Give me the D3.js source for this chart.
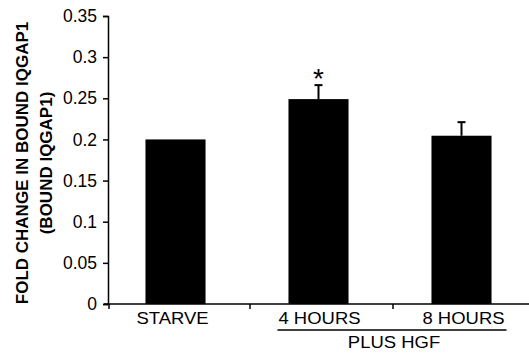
<!DOCTYPE html>
<html>
<head>
<meta charset="utf-8">
<script src="https://cdn.jsdelivr.net/npm/d3@7"></script>
<style>
  html, body { margin: 0; padding: 0; background: #fff; }
  text { font-family: Arial, "Liberation Sans", sans-serif; fill: #000; }
</style>
</head>
<body>
<div id="chart"></div>
<script>
// Bound IQGAP1 fold change
const categories = ['STARVE', '4 HOURS', '8 HOURS'];
const values = [0.2, 0.249, 0.2045];
const errors = [0, 0.017, 0.0165];
const significant = [false, true, false];
const yTicks = [0, 0.05, 0.1, 0.15, 0.2, 0.25, 0.3, 0.35];
const groupLabel = 'PLUS HGF';
const yLabelLines = ['FOLD CHANGE IN BOUND IQGAP1', '(BOUND IQGAP1)'];

const width = 529, height = 354;
const margin = { left: 108, top: 16, bottom: 50 };
const stretch = 1.12; // the source text is a bit wide

const svg = d3.select('#chart')
    .append('svg')
    .attr('width', width)
    .attr('height', height);

const x = d3.scaleBand()
    .domain(categories)
    .range([104, 533])
    .paddingInner(0.58)
    .paddingOuter(0.29);

const y = d3.scaleLinear()
    .domain([0, 0.35])
    .range([height - margin.bottom, margin.top]);

// Bars
svg.append('g')
    .selectAll('rect')
    .data(categories)
    .enter().append('rect')
    .attr('x', d => x(d))
    .attr('y', (d, i) => y(values[i]))
    .attr('width', x.bandwidth())
    .attr('height', (d, i) => y(0) - y(values[i]))
    .attr('fill', '#000');

// Error bars (upper only)
const err = svg.append('g')
    .selectAll('g')
    .data(categories.filter((d, i) => errors[i] > 0))
    .enter().append('g');

err.append('line')
    .attr('x1', d => x(d) + x.bandwidth() / 2)
    .attr('x2', d => x(d) + x.bandwidth() / 2)
    .attr('y1', d => y(values[categories.indexOf(d)]))
    .attr('y2', d => y(values[categories.indexOf(d)] + errors[categories.indexOf(d)]))
    .attr('stroke', '#000')
    .attr('stroke-width', 2);

err.append('line')
    .attr('x1', d => x(d) + x.bandwidth() / 2 - 4)
    .attr('x2', d => x(d) + x.bandwidth() / 2 + 4)
    .attr('y1', d => y(values[categories.indexOf(d)] + errors[categories.indexOf(d)]))
    .attr('y2', d => y(values[categories.indexOf(d)] + errors[categories.indexOf(d)]))
    .attr('stroke', '#000')
    .attr('stroke-width', 2);

// Significance star
svg.append('g')
    .selectAll('text')
    .data(categories.filter((d, i) => significant[i]))
    .enter().append('text')
    .attr('x', d => x(d) + x.bandwidth() / 2)
    .attr('y', d => y(values[categories.indexOf(d)] + errors[categories.indexOf(d)]) + 3)
    .attr('text-anchor', 'middle')
    .attr('font-size', 28)
    .text('*');

// Y axis
const yAxis = svg.append('g')
    .attr('transform', `translate(${margin.left},0)`)
    .call(d3.axisLeft(y).tickValues(yTicks).tickSize(5).tickPadding(6)
        .tickFormat(d => d === 0 ? '0' : String(+d.toFixed(2))));
yAxis.select('.domain').attr('stroke', '#000').attr('stroke-width', 1.5);
yAxis.selectAll('.tick line').attr('stroke', '#000').attr('stroke-width', 1.5);
yAxis.selectAll('.tick text')
    .attr('font-size', 17.5)
    .attr('font-family', 'Arial, "Liberation Sans", sans-serif')
    .attr('fill', '#000');

// X axis: ticks at band boundaries
const bounds = categories.map(d => Math.max(margin.left + 1, x(d) - x.step() * x.paddingInner() / 2 + 3));
const xAxisG = svg.append('g')
    .attr('transform', `translate(0,${y(0)})`);
xAxisG.append('line')
    .attr('x1', margin.left - 4)
    .attr('x2', width)
    .attr('stroke', '#000')
    .attr('stroke-width', 1.5);
xAxisG.selectAll('.xtick')
    .data(bounds)
    .enter().append('line')
    .attr('class', 'xtick')
    .attr('x1', d => d).attr('x2', d => d)
    .attr('y1', 0).attr('y2', 5)
    .attr('stroke', '#000')
    .attr('stroke-width', 1.5);

xAxisG.selectAll('.xlabel')
    .data(categories)
    .enter().append('text')
    .attr('class', 'xlabel')
    .attr('text-anchor', 'middle')
    .attr('font-size', 16.5)
    .attr('transform', (d, i) => `translate(${x(d) + x.bandwidth() / 2 + [-3, 1, 2][i]},20) scale(${stretch},1)`)
    .text(d => d);

// Group bracket under the HGF conditions
const g0 = x('4 HOURS'), g1 = x('8 HOURS') + x.bandwidth();
const bracketY = y(0) + 26;
svg.append('line')
    .attr('x1', g0 - 11).attr('x2', g1 + 15)
    .attr('y1', bracketY).attr('y2', bracketY)
    .attr('stroke', '#000')
    .attr('stroke-width', 1.5);
svg.append('text')
    .attr('text-anchor', 'middle')
    .attr('font-size', 16.5)
    .attr('transform', `translate(${(g0 + g1) / 2 + 4},${bracketY + 18}) scale(${stretch},1)`)
    .text(groupLabel);

// Y axis title
const yTitle = svg.append('text')
    .attr('text-anchor', 'middle')
    .attr('font-size', 17)
    .attr('font-weight', 'bold')
    .attr('transform', 'translate(28,163) rotate(-90)');
yTitle.selectAll('tspan')
    .data(yLabelLines)
    .enter().append('tspan')
    .attr('x', 0)
    .attr('dy', (d, i) => i === 0 ? 0 : 24)
    .text(d => d);
</script>
</body>
</html>
